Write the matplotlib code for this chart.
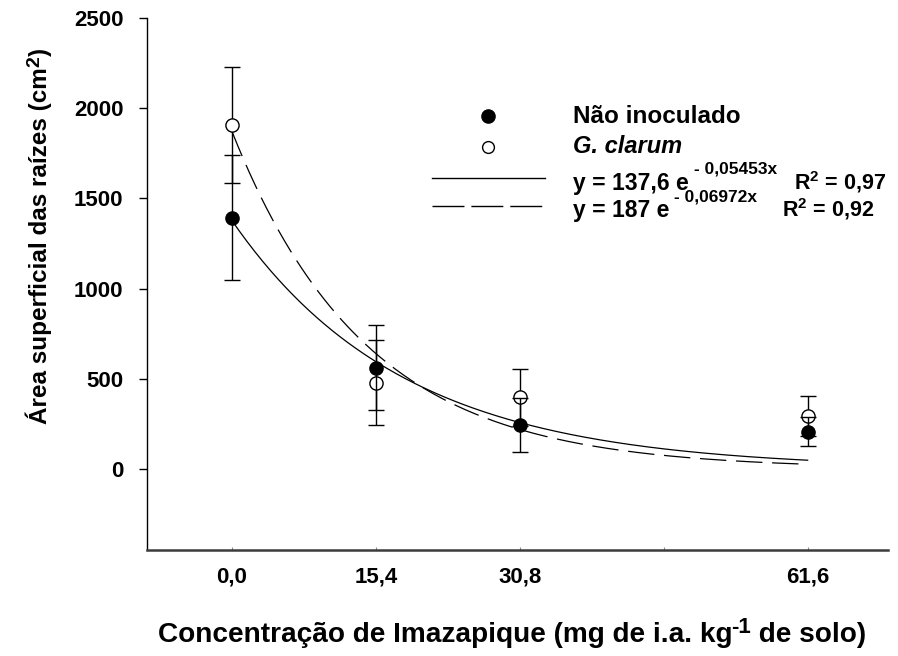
import matplotlib
matplotlib.use('Agg')
import matplotlib.pyplot as plt
import numpy as np

plt.rcParams['font.family'] = ['Liberation Sans', 'DejaVu Sans']
plt.rcParams['font.weight'] = 'bold'
plt.rcParams['mathtext.fontset'] = 'custom'
plt.rcParams['mathtext.rm'] = 'Liberation Sans:bold'
plt.rcParams['mathtext.bf'] = 'Liberation Sans:bold'
plt.rcParams['mathtext.it'] = 'Liberation Sans:bold:italic'
plt.rcParams['lines.scale_dashes'] = False

# ---------------- data ----------------
conc = [0.0, 15.4, 30.8, 61.6]
minor_tick = [46.2]
tick_labels = ['0,0', '15,4', '30,8', '61,6']
y_ticks = [0, 500, 1000, 1500, 2000, 2500]

nao_inoculado = [1393, 561, 244, 207]
nao_inoculado_err = [345, 237, 148, 80]
g_clarum = [1907, 478, 397, 294]
g_clarum_err = [320, 236, 157, 111]

# fitted exponential models y = a * e^(-b x) (printed a is /10)
fit_a = [137.6, 187.0]
fit_b = [0.05453, 0.06972]
fit_scale = 10.0
eq_texts = ['y = 137,6 e', 'y = 187 e']
eq_sup = ['- 0,05453x', '- 0,06972x']
r2_texts = ['R$^{2}$ = 0,97', 'R$^{2}$ = 0,92']

W, H = 898, 656
fig = plt.figure(figsize=(W / 100, H / 100), dpi=100)
renderer = fig.canvas.get_renderer()

def fx(px):
    return px / W

def fy(py):
    return 1 - py / H

ax = fig.add_axes([fx(147), fy(550), fx(888) - fx(147), fy(18) - fy(550)])
ax.set_xlim(-9.1, 70.2)
ax.set_ylim(-450, 2500)

for s in ['top', 'right']:
    ax.spines[s].set_visible(False)
ax.spines['left'].set_linewidth(1.0)
ax.spines['left'].set_color('black')
ax.spines['bottom'].set_linewidth(1.8)
ax.spines['bottom'].set_color('#3c3c3c')

ax.set_yticks(y_ticks)
ax.set_yticklabels([str(v) for v in y_ticks])
ax.tick_params(axis='y', direction='out', length=6, width=1.0, pad=11,
               labelsize=16)
ax.set_xticks(conc + minor_tick)
ax.set_xticklabels(tick_labels + [''])
ax.tick_params(axis='x', direction='in', length=2, width=0.8, color='#888888',
               pad=12, labelsize=16)
for lab in ax.get_xticklabels() + ax.get_yticklabels():
    lab.set_fontweight('bold')

# fitted curves
xs = np.linspace(conc[0], conc[-1], 300)
ys_solid = fit_a[0] * fit_scale * np.exp(-fit_b[0] * xs)
ys_dash = fit_a[1] * fit_scale * np.exp(-fit_b[1] * xs)
ax.plot(xs, ys_solid, color='black', lw=0.9)
ax.plot(xs, ys_dash, color='black', lw=0.9, dashes=(19, 7))

# error bars and points
ax.errorbar(conc, g_clarum, yerr=g_clarum_err, fmt='o', ms=9.5, mfc='white',
            mec='black', mew=1.0, ecolor='black', elinewidth=1.0,
            capsize=5.8, capthick=1.0, zorder=3)
ax.errorbar(conc, nao_inoculado, yerr=nao_inoculado_err, fmt='o', ms=9.5,
            mfc='black', mec='black', ecolor='black', elinewidth=1.0,
            capsize=5.8, capthick=1.0, zorder=4)

# ---- x axis label (with superscript -1) ----
xl_size = 20.2
parts = ['Concentração de Imazapique (mg de i.a. kg', '-1', ' de solo)']
tmp = [fig.text(0, 0, p, fontsize=(xl_size if i != 1 else 16), fontweight='bold')
       for i, p in enumerate(parts)]
widths = [t.get_window_extent(renderer).width for t in tmp]
for t in tmp:
    t.remove()
gap = -2
total = widths[0] + gap + widths[1] + widths[2]
x0 = 512 - total / 2
fig.text(fx(x0), fy(642), parts[0], ha='left', va='baseline',
         fontsize=xl_size, fontweight='bold')
fig.text(fx(x0 + widths[0] + gap), fy(633), parts[1], ha='left', va='baseline',
         fontsize=16, fontweight='bold')
fig.text(fx(x0 + widths[0] + gap + widths[1]), fy(642), parts[2], ha='left',
         va='baseline', fontsize=xl_size, fontweight='bold')

# ---- y axis label (with superscript 2) ----
yl_size = 17.5
yparts = ['Área superficial das raízes (cm', '2', ')']
tmp = [fig.text(0, 0, p, fontsize=(yl_size if i != 1 else 14), fontweight='bold')
       for i, p in enumerate(yparts)]
ylens = [t.get_window_extent(renderer).width for t in tmp]
for t in tmp:
    t.remove()
ytotal = ylens[0] + ylens[1] + ylens[2] + 1
ybase_x = 47
y_start = 236 + ytotal / 2
fig.text(fx(ybase_x), fy(y_start), yparts[0], ha='left', va='baseline',
         rotation=90, rotation_mode='anchor', fontsize=yl_size, fontweight='bold')
fig.text(fx(ybase_x - 8), fy(y_start - ylens[0] - 1), yparts[1], ha='left',
         va='baseline', rotation=90, rotation_mode='anchor', fontsize=14,
         fontweight='bold')
fig.text(fx(ybase_x), fy(y_start - ylens[0] - 1 - ylens[1]), yparts[2],
         ha='left', va='baseline', rotation=90, rotation_mode='anchor',
         fontsize=yl_size, fontweight='bold')

# ---- legend (drawn manually) ----
fig.lines.append(plt.Line2D([fx(488)], [fy(116)], marker='o', ms=9.5,
                            mfc='black', mec='black', ls='none',
                            transform=fig.transFigure))
fig.lines.append(plt.Line2D([fx(488)], [fy(147)], marker='o', ms=8.5,
                            mfc='white', mec='black', mew=1.0, ls='none',
                            transform=fig.transFigure))
fig.lines.append(plt.Line2D([fx(432), fx(545)], [fy(178), fy(178)],
                            color='black', lw=1.0, transform=fig.transFigure))
fig.lines.append(plt.Line2D([fx(432), fx(545)], [fy(206), fy(206)],
                            color='black', lw=1.0, dashes=(23, 5),
                            transform=fig.transFigure))

fig.text(fx(573), fy(123), 'Não inoculado', ha='left', va='baseline',
         fontsize=17.5, fontweight='bold')
fig.text(fx(573), fy(153), 'G. clarum', ha='left', va='baseline',
         fontsize=17, fontweight='bold', style='italic')

eq_base = [190, 217]
sup_base = [174, 201]
r2_left = [794, 782]
for i in range(2):
    t = fig.text(fx(573), fy(eq_base[i]), eq_texts[i], ha='left',
                 va='baseline', fontsize=16.5, fontweight='bold')
    bb = t.get_window_extent(renderer)
    fig.text((bb.x1 + 5) / W, fy(sup_base[i]), eq_sup[i], ha='left',
             va='baseline', fontsize=12.5, fontweight='bold')
    fig.text(fx(r2_left[i]), fy(eq_base[i]), r2_texts[i], ha='left',
             va='baseline', fontsize=15.5, fontweight='bold')

fig.savefig('out.png', dpi=100)
